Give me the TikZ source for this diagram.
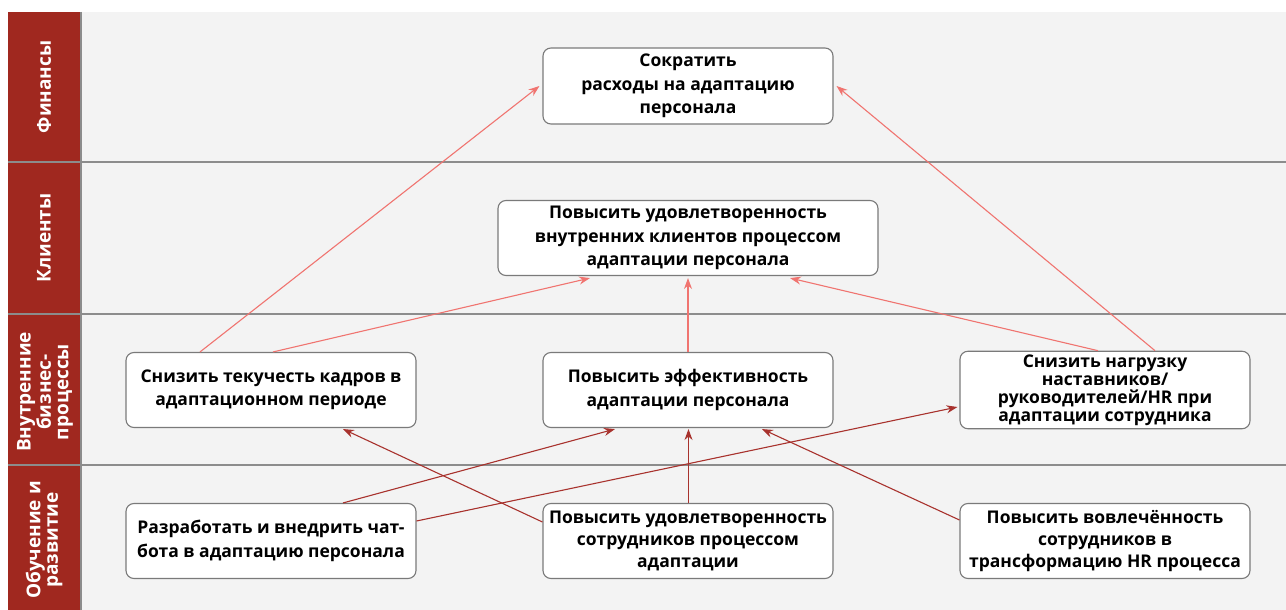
\documentclass[tikz,border=0pt]{standalone}
\usepackage{fontspec}
\setmainfont{Open Sans}
\usepackage{xcolor}
\usepackage{tikz}
\usetikzlibrary{arrows.meta, positioning, calc}
\definecolor{bscstrip}{HTML}{A0281F}
\definecolor{bscback}{HTML}{F3F3F3}
\definecolor{bscline}{HTML}{8C8C8C}
\definecolor{bscbox}{HTML}{7A7A7A}
\definecolor{bsclight}{HTML}{F07470}
\definecolor{bscdark}{HTML}{A8322D}

\tikzset{
    goal/.style={draw=bscbox, line width=1.1pt, fill=white, rounded corners=8pt,
        minimum width=290pt, minimum height=76pt, align=center,
        font=\fontsize{17.5}{23.5}\selectfont\bfseries},
    lanelabel/.style={rotate=90, text=white, align=center,
        font=\fontsize{19}{17.5}\selectfont\bfseries},
    uplink/.style={-{Stealth[length=11pt, width=8pt]}, line width=1.1pt, bsclight},
    lowlink/.style={-{Stealth[length=11pt, width=8pt]}, line width=1.1pt, bscdark}
}

\begin{document}
\begin{tikzpicture}[x=1pt, y=-1pt]
    \useasboundingbox (0,0) rectangle (1286,610);

    % lanes
    \fill[bscback] (82,12) rectangle (1286,610);
    \fill[bscstrip] (8,12) rectangle (80,610);
    \draw[bscline, line width=1.5pt] (81,12) -- (81,610);
    \foreach \y in {162, 314, 465}
        \draw[bscline, line width=2pt] (8,\y) -- (1286,\y);

    \node[lanelabel] (finlane) at (44, 87) {Финансы};
    \node[lanelabel] (clilane) at (44, 238) {Клиенты};
    \node[lanelabel] (proclane) at (45, 392) {Внутренние\\бизнес-\\процессы};
    \node[lanelabel] (learnlane) at (44, 540) {Обучение и\\развитие};

    % Финансы
    \node[goal] (fin) at (688, 86) {Сократить\\расходы на адаптацию\\персонала};

    % Клиенты
    \node[goal, minimum width=380pt, minimum height=75pt] (cli) at (688, 238) {Повысить удовлетворенность\\внутренних клиентов процессом\\адаптации персонала};

    % Внутренние бизнес-процессы
    \node[goal, minimum height=75pt] (turnover) at (271, 390) {Снизить текучесть кадров в\\адаптационном периоде};
    \node[goal, minimum height=75pt] (efficiency) at (688, 390) {Повысить эффективность\\адаптации персонала};
    \node[goal, font=\fontsize{17.5}{18}\selectfont\bfseries] (workload) at (1105, 390) {Снизить нагрузку\\наставников/\\руководителей/HR при\\адаптации сотрудника};

    % Обучение и развитие
    \node[goal, minimum height=75pt] (chatbot) at (271, 541) {Разработать и внедрить чат-\\бота в адаптацию персонала};
    \node[goal, minimum height=75pt, font=\fontsize{17.5}{22}\selectfont\bfseries] (staffsat) at (688, 541) {Повысить удовлетворенность\\сотрудников процессом\\адаптации};
    \node[goal, minimum height=75pt, font=\fontsize{17.5}{22}\selectfont\bfseries] (engage) at (1105, 541) {Повысить вовлечённость\\сотрудников в\\трансформацию HR процесса};

    % Arrows
    \draw[uplink] ($(turnover.north)+(-71,0)$) -- ($(fin.west)+(-3,0)$);
    \draw[uplink] ($(workload.north)+(50,0)$) -- ($(fin.east)+(3,0)$);
    \draw[uplink] ($(turnover.north)+(2,0)$) -- ($(cli.south)+(-98,2)$);
    \draw[uplink] (efficiency.north) -- ($(cli.south)+(0,2)$);
    \draw[uplink] ($(workload.north)+(-7,0)$) -- ($(cli.south)+(102,2)$);

    \draw[lowlink] ($(chatbot.north)+(72,0)$) -- ($(efficiency.south)+(-73,1)$);
    \draw[lowlink] ($(chatbot.east)+(0,-20)$) -- ($(workload.west)+(-2,17)$);
    \draw[lowlink] ($(staffsat.west)+(0,-19)$) -- ($(turnover.south)+(72,1)$);
    \draw[lowlink] ($(staffsat.north)+(0.5,0)$) -- ($(efficiency.south)+(0.5,1)$);
    \draw[lowlink] ($(engage.west)+(0,-21)$) -- ($(efficiency.south)+(74,1)$);
\end{tikzpicture}
\end{document}
